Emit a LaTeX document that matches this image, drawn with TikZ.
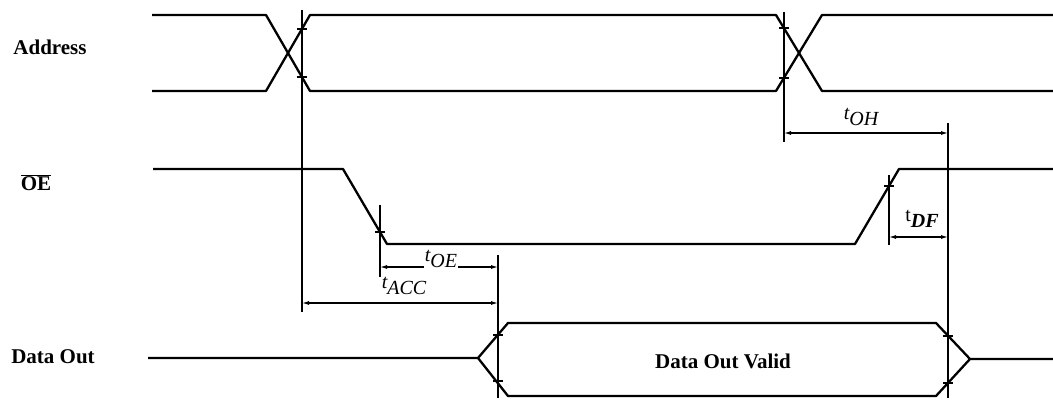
\documentclass[tikz,border=0pt]{standalone}
\usepackage{fontspec}
\setmainfont{Liberation Serif}
\usetikzlibrary{arrows.meta}

\tikzset{
  sig/.style={line width=2.3pt, line join=round},
  guide/.style={line width=1.2pt},
  tick/.style={line width=1.5pt},
  dim/.style={line width=1.1pt, {Latex[length=7pt,width=4pt]}-{Latex[length=7pt,width=4pt]}},
  lbl/.style={font=\fontsize{21}{24}\selectfont\bfseries, inner sep=0pt},
  tlbl/.style={font=\fontsize{20}{22}\selectfont\itshape, inner sep=1pt},
}
\newcommand{\tsub}[2]{#1\raisebox{-0.3em}{#2}}

\begin{document}
\begin{tikzpicture}[x=1pt,y=-1pt]
\useasboundingbox (0,0) rectangle (1053,401);

% signal names
\node[lbl] (addr) at (50,47) {Address};
\node[lbl] (oe) at (36,183) {$\overline{\mbox{OE}}$};
\node[lbl] (dout) at (53,357) {Data Out};
\node[lbl] (valid) at (723,361) {Data Out Valid};

% Address
\coordinate (a0) at (152,15);  \coordinate (b0) at (152,91);
\coordinate (a1) at (266,15);  \coordinate (b1) at (266,91);
\coordinate (a2) at (310,15);  \coordinate (b2) at (310,91);
\coordinate (a3) at (776,15);  \coordinate (b3) at (776,91);
\coordinate (a4) at (822,15);  \coordinate (b4) at (822,91);
\coordinate (a5) at (1053,15); \coordinate (b5) at (1053,91);
\draw[sig] (a0) -- (a1) -- (b2) -- (b3) -- (a4) -- (a5);
\draw[sig] (b0) -- (b1) -- (a2) -- (a3) -- (b4) -- (b5);

% OE
\coordinate (e0) at (153,169);
\coordinate (e1) at (343,169);
\coordinate (e2) at (387,244);
\coordinate (e3) at (855,244);
\coordinate (e4) at (899,169);
\coordinate (e5) at (1053,169);
\draw[sig] (e0) -- (e1) -- (e2) -- (e3) -- (e4) -- (e5);

% Data Out
\coordinate (d0) at (148,358);
\coordinate (d1) at (478,358);
\coordinate (u1) at (508,323); \coordinate (l1) at (508,396);
\coordinate (u2) at (936,323); \coordinate (l2) at (936,396);
\coordinate (d2) at (970,359);
\coordinate (d3) at (1053,359);
\draw[sig] (d0) -- (d1) -- (u1) -- (u2) -- (d2) -- (d3);
\draw[sig] (d1) -- (l1) -- (l2) -- (d2);

% reference lines
\coordinate (v1t) at (302,10);  \coordinate (v1b) at (302,312);
\coordinate (v2t) at (784,12);  \coordinate (v2b) at (784,142);
\coordinate (v3t) at (948,123); \coordinate (v3b) at (948,398);
\coordinate (v4t) at (380,205); \coordinate (v4b) at (380,277);
\coordinate (v5t) at (498,255); \coordinate (v5b) at (498,398);
\coordinate (v6t) at (889,175); \coordinate (v6b) at (889,245);
\foreach \v in {v1,v2,v3,v4,v5,v6}
  \draw[guide] (\v t) -- (\v b);

% crossing marks
\coordinate (k1) at (302,29);  \coordinate (k2) at (302,77);
\coordinate (k3) at (784,28);  \coordinate (k4) at (784,78);
\coordinate (k5) at (380,232); \coordinate (k6) at (889,186);
\coordinate (k7) at (498,335); \coordinate (k8) at (498,381);
\coordinate (k9) at (948,336); \coordinate (k10) at (948,383);
\foreach \p in {k1,k2,k3,k4,k5,k6,k7,k8,k9,k10}
  \draw[tick] ([xshift=-5pt]\p) -- ([xshift=5pt]\p);

% timing parameters
\coordinate (oh1) at (784,133); \coordinate (oh2) at (948,133);
\draw[dim] (oh1) -- (oh2);
\node[tlbl] (toh) at (861,117) {\tsub{t}{OH}};

\coordinate (df1) at (889,237); \coordinate (df2) at (948,237);
\draw[dim] (df1) -- (df2);
\node[tlbl] (tdf) at (922,219) {\upshape t\raisebox{-0.3em}{\bfseries\itshape DF}};

\coordinate (oe1) at (380,267); \coordinate (oe2) at (498,267);
\draw[dim] (oe1) -- (oe2);
\node[tlbl, fill=white] (toe) at (441,259) {\tsub{t}{OE}};

\coordinate (acc1) at (302,303); \coordinate (acc2) at (498,303);
\draw[dim] (acc1) -- (acc2);
\node[tlbl] (tacc) at (404,286) {\tsub{t}{ACC}};
\end{tikzpicture}
\end{document}
